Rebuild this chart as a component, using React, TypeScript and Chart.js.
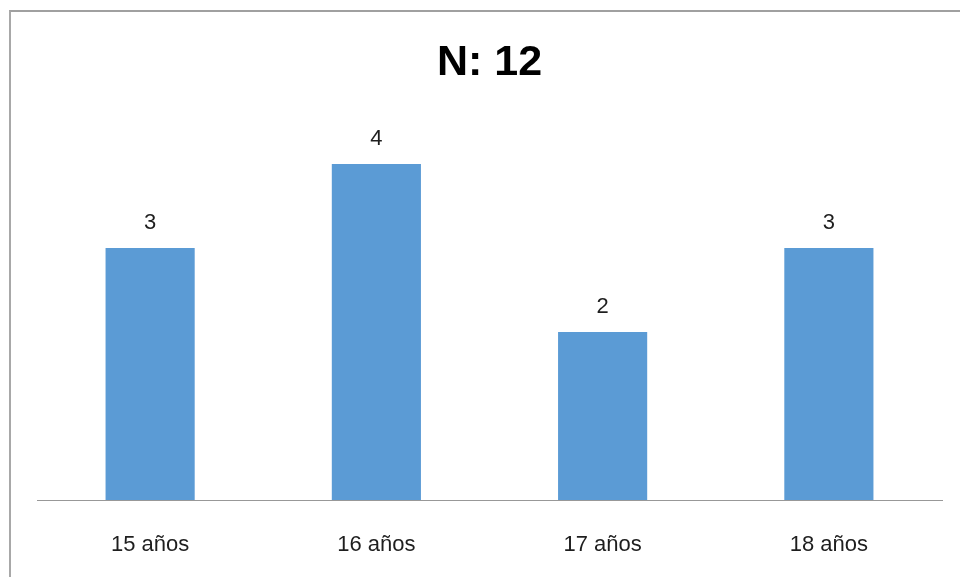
import React, { useEffect, useRef } from "react";
import { Chart, registerables } from "chart.js";

Chart.register(...registerables);

const TITLE = "N: 12";
const CATEGORIES = ["15 años", "16 años", "17 años", "18 años"];
const VALUES = [3, 4, 2, 3];
const Y_MIN = 0;
const Y_MAX = 5;

const FONT = "'Liberation Sans', Arial, sans-serif";

const valueLabels = {
  id: "valueLabels",
  afterDatasetsDraw(chart: any) {
    const ctx = chart.ctx;
    const meta = chart.getDatasetMeta(0);
    const data = chart.data.datasets[0].data;
    ctx.save();
    ctx.font = `22px ${FONT}`;
    ctx.fillStyle = "#1e1e1e";
    ctx.textAlign = "center";
    ctx.textBaseline = "alphabetic";
    meta.data.forEach((bar: any, i: number) => {
      ctx.fillText(String(data[i]), bar.x, bar.y - 19);
    });
    ctx.restore();
  },
};

export default function App() {
  const ref = useRef<HTMLCanvasElement | null>(null);

  useEffect(() => {
    if (!ref.current) return;
    const chart = new Chart(ref.current, {
      type: "bar",
      data: {
        labels: CATEGORIES,
        datasets: [
          {
            data: VALUES,
            backgroundColor: "#5B9BD5",
            borderWidth: 0,
            categoryPercentage: 1,
            barPercentage: 0.394,
          },
        ],
      },
      options: {
        responsive: false,
        animation: false,
        layout: { padding: { top: 46, left: 37, right: 18, bottom: 21 } },
        plugins: {
          legend: { display: false },
          tooltip: { enabled: false },
          title: {
            display: true,
            text: TITLE,
            color: "#000000",
            font: { family: FONT, size: 43, weight: "bold", lineHeight: "34px" },
            padding: { top: 0, bottom: 0 },
          },
        },
        scales: {
          x: {
            grid: { display: false, drawTicks: false },
            border: { display: true, color: "#989898", width: 1 },
            ticks: {
              color: "#1e1e1e",
              font: { family: FONT, size: 22 },
              padding: 32,
              maxRotation: 0,
            },
            afterFit(scale: any) {
              scale.height = 56;
            },
          },
          y: {
            display: false,
            min: Y_MIN,
            max: Y_MAX,
          },
        },
      },
      plugins: [valueLabels],
    });
    return () => chart.destroy();
  }, []);

  return (
    <div
      style={{
        position: "fixed",
        left: 0,
        top: 0,
        width: 960,
        height: 577,
        background: "#ffffff",
        overflow: "hidden",
      }}
    >
      <div
        style={{
          position: "absolute",
          left: 9,
          top: 10,
          width: 1000,
          height: 1000,
          borderTop: "2px solid #a0a0a0",
          borderLeft: "2px solid #a8a8a8",
        }}
      />
      <canvas
        ref={ref}
        width={960}
        height={577}
        style={{ position: "absolute", left: 0, top: 0, display: "block" }}
      />
    </div>
  );
}
